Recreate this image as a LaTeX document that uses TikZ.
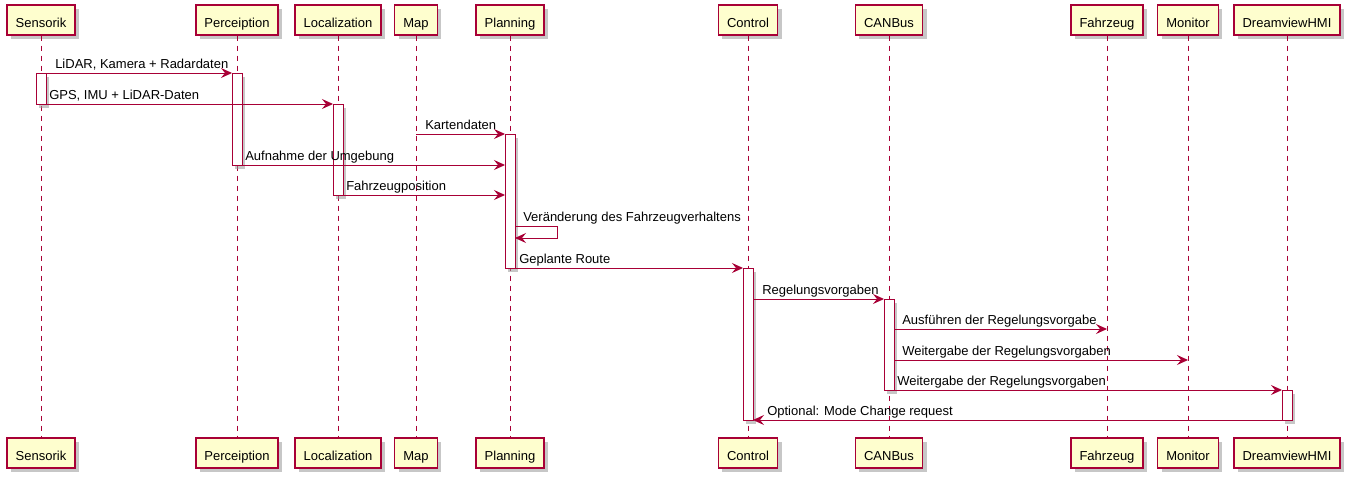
\documentclass[tikz,border=0pt]{standalone}
\usepackage{fontspec}
\setmainfont{Liberation Sans}
\usetikzlibrary{arrows.meta}
\definecolor{umlred}{HTML}{A80036}
\definecolor{umlyellow}{HTML}{FEFECE}

\begin{document}
\begin{tikzpicture}[x=0.75pt,y=-0.75pt,
  boxshadow/.style={preaction={draw=none, fill=black!40, fill opacity=0.55,
    transform canvas={shift={(#1,-#1)}}}},
  partbox/.style={draw=umlred, line width=1.1pt, fill=umlyellow, minimum height=22.5pt,
    inner xsep=6.5pt, text height=10.5pt, text depth=0pt, font=\fontsize{9.75pt}{11pt}\selectfont,
    boxshadow=3pt},
  actbox/.style={draw=umlred, line width=0.75pt, fill=white, minimum width=7.5pt, anchor=north,
    boxshadow=2.25pt},
  lifeline/.style={draw=umlred, line width=0.75pt, dash pattern=on 3.75pt off 3.75pt},
  msg/.style={draw=umlred, line width=0.75pt, -{Stealth[length=8.25pt, width=7.5pt, inset=3pt]}},
  msglabel/.style={anchor=base west, inner sep=0pt, font=\fontsize{9.75pt}{11pt}\selectfont}]
  \useasboundingbox (0,0) rectangle (1350,482);
  % participant boxes, top and bottom
  \node[partbox] (sensorik_top) at (41,20) {Sensorik};
  \node[partbox] (sensorik_bot) at (41,453) {Sensorik};
  \node[partbox] (perception_top) at (237,20) {Perceiption};
  \node[partbox] (perception_bot) at (237,453) {Perceiption};
  \node[partbox] (localization_top) at (338,20) {Localization};
  \node[partbox] (localization_bot) at (338,453) {Localization};
  \node[partbox] (map_top) at (416,20) {Map};
  \node[partbox] (map_bot) at (416,453) {Map};
  \node[partbox] (planning_top) at (510,20) {Planning};
  \node[partbox] (planning_bot) at (510,453) {Planning};
  \node[partbox] (control_top) at (748,20) {Control};
  \node[partbox] (control_bot) at (748,453) {Control};
  \node[partbox] (canbus_top) at (889,20) {CANBus};
  \node[partbox] (canbus_bot) at (889,453) {CANBus};
  \node[partbox] (fahrzeug_top) at (1107,20) {Fahrzeug};
  \node[partbox] (fahrzeug_bot) at (1107,453) {Fahrzeug};
  \node[partbox] (monitor_top) at (1188,20) {Monitor};
  \node[partbox] (monitor_bot) at (1188,453) {Monitor};
  \node[partbox] (hmi_top) at (1287,20) {DreamviewHMI};
  \node[partbox] (hmi_bot) at (1287,453) {DreamviewHMI};
  % dashed lifelines
  \draw[lifeline] (sensorik_top) -- (sensorik_bot);
  \draw[lifeline] (perception_top) -- (perception_bot);
  \draw[lifeline] (localization_top) -- (localization_bot);
  \draw[lifeline] (map_top) -- (map_bot);
  \draw[lifeline] (planning_top) -- (planning_bot);
  \draw[lifeline] (control_top) -- (control_bot);
  \draw[lifeline] (canbus_top) -- (canbus_bot);
  \draw[lifeline] (fahrzeug_top) -- (fahrzeug_bot);
  \draw[lifeline] (monitor_top) -- (monitor_bot);
  \draw[lifeline] (hmi_top) -- (hmi_bot);
  % activation bars
  \node[actbox, minimum height=31*0.75pt] (act_sensorik) at (41,73) {};
  \node[actbox, minimum height=92*0.75pt] (act_perception) at (237,73) {};
  \node[actbox, minimum height=91*0.75pt] (act_localization) at (338,104) {};
  \node[actbox, minimum height=134*0.75pt] (act_planning) at (510,134) {};
  \node[actbox, minimum height=152*0.75pt] (act_control) at (748,268) {};
  \node[actbox, minimum height=91*0.75pt] (act_canbus) at (889,299) {};
  \node[actbox, minimum height=30*0.75pt] (act_hmi) at (1287,390) {};
  % message end points
  \coordinate (msg1_a) at (41,73);
  \coordinate (msg1_b) at (232,73);
  \coordinate (msg2_a) at (46,104);
  \coordinate (msg2_b) at (333,104);
  \coordinate (msg3_a) at (416,134);
  \coordinate (msg3_b) at (505,134);
  \coordinate (msg4_a) at (242,165);
  \coordinate (msg4_b) at (505,165);
  \coordinate (msg5_a) at (343,195);
  \coordinate (msg5_b) at (505,195);
  \coordinate (msg6_a) at (515,226);
  \coordinate (msg6_c1) at (557,226);
  \coordinate (msg6_c2) at (557,238);
  \coordinate (msg6_b) at (515,238);
  \coordinate (msg7_a) at (515,268);
  \coordinate (msg7_b) at (743,268);
  \coordinate (msg8_a) at (753,299);
  \coordinate (msg8_b) at (884,299);
  \coordinate (msg9_a) at (894,329);
  \coordinate (msg9_b) at (1107,329);
  \coordinate (msg10_a) at (894,360);
  \coordinate (msg10_b) at (1188,360);
  \coordinate (msg11_a) at (894,390);
  \coordinate (msg11_b) at (1282,390);
  \coordinate (msg12_a) at (1282,420);
  \coordinate (msg12_b) at (753,420);
  % messages
  \draw[msg] (msg1_a) -- (msg1_b);
  \draw[msg] (msg2_a) -- (msg2_b);
  \draw[msg] (msg3_a) -- (msg3_b);
  \draw[msg] (msg4_a) -- (msg4_b);
  \draw[msg] (msg5_a) -- (msg5_b);
  \draw[msg] (msg6_a) -- (msg6_c1) -- (msg6_c2) -- (msg6_b);
  \draw[msg] (msg7_a) -- (msg7_b);
  \draw[msg] (msg8_a) -- (msg8_b);
  \draw[msg] (msg9_a) -- (msg9_b);
  \draw[msg] (msg10_a) -- (msg10_b);
  \draw[msg] (msg11_a) -- (msg11_b);
  \draw[msg] (msg12_a) -- (msg12_b);
  % message labels
  \node[msglabel] (lbl1) at (55,68) {LiDAR, Kamera + Radardaten};
  \node[msglabel] (lbl2) at (49,99) {GPS, IMU + LiDAR-Daten};
  \node[msglabel] (lbl3) at (425,129) {Kartendaten};
  \node[msglabel] (lbl4) at (245,160) {Aufnahme der Umgebung};
  \node[msglabel] (lbl5) at (346,190) {Fahrzeugposition};
  \node[msglabel] (lbl6) at (523,221) {Veränderung des Fahrzeugverhaltens};
  \node[msglabel] (lbl7) at (519,263) {Geplante Route};
  \node[msglabel] (lbl8) at (762,294) {Regelungsvorgaben};
  \node[msglabel] (lbl9) at (902,324) {Ausführen der Regelungsvorgabe};
  \node[msglabel] (lbl10) at (902,355) {Weitergabe der Regelungsvorgaben};
  \node[msglabel] (lbl11) at (897,385) {Weitergabe der Regelungsvorgaben};
  \node[msglabel] (lbl12) at (767,415) {Optional: Mode Change request};
\end{tikzpicture}
\end{document}
